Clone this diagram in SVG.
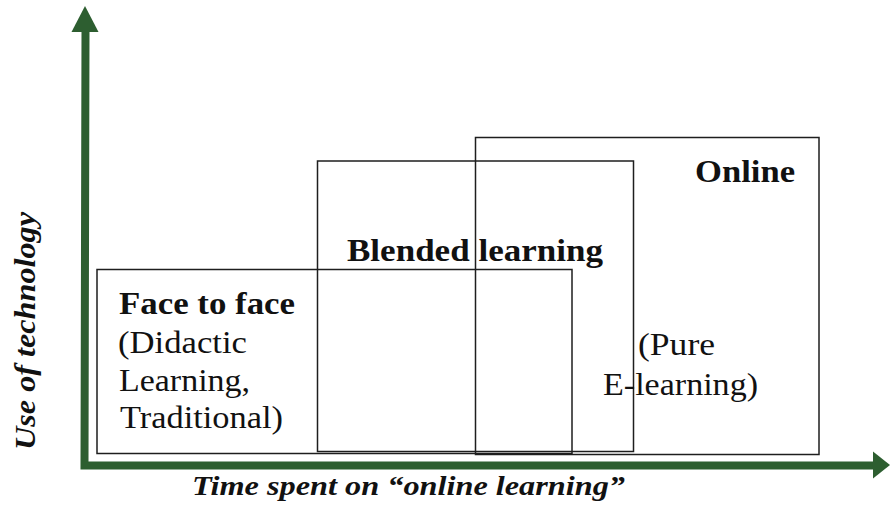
<svg xmlns="http://www.w3.org/2000/svg" width="890" height="508" viewBox="0 0 890 508">
  <style>
    .box { fill: none; stroke: #1e1e1e; stroke-width: 1.5; }
    .axis { fill: none; stroke: #2d5e30; stroke-width: 8; stroke-linejoin: miter; }
    .head { fill: #2d5e30; }
    .t { font-family: 'Liberation Serif', 'DejaVu Serif', serif; font-size: 31px; fill: #111; }
    .b { font-weight: bold; }
    .lbl { font-family: 'Liberation Serif', 'DejaVu Serif', serif; font-weight: bold; font-style: italic; fill: #111; }
  </style>
  <rect width="890" height="508" fill="#ffffff"/>

  <!-- axes -->
  <g id="axes">
    <path class="axis" d="M85.5 30 L84.5 465.5 L874 465.5"/>
    <polygon class="head" points="85,6 98.5,32 71.5,32"/>
    <polygon class="head" points="890,465 873,451.5 873,478.5"/>
  </g>

  <!-- regions -->
  <g id="face-to-face">
    <rect class="box" x="97" y="269.5" width="475" height="184"/>
    <text class="t b" x="119" y="314" textLength="176" lengthAdjust="spacingAndGlyphs">Face to face</text>
    <text class="t" x="118" y="353" textLength="129" lengthAdjust="spacingAndGlyphs">(Didactic</text>
    <text class="t" x="119" y="391" textLength="131" lengthAdjust="spacingAndGlyphs">Learning,</text>
    <text class="t" x="120" y="428" textLength="163" lengthAdjust="spacingAndGlyphs">Traditional)</text>
  </g>

  <g id="blended">
    <rect class="box" x="317.5" y="161" width="316" height="290.5"/>
    <text class="t b" x="347" y="261" textLength="256" lengthAdjust="spacingAndGlyphs">Blended learning</text>
  </g>

  <g id="online">
    <rect class="box" x="475.5" y="137.5" width="343.5" height="317"/>
    <text class="t b" x="695" y="182" textLength="100" lengthAdjust="spacingAndGlyphs">Online</text>
    <text class="t" x="638" y="355" textLength="77" lengthAdjust="spacingAndGlyphs">(Pure</text>
    <text class="t" x="603" y="395" textLength="155" lengthAdjust="spacingAndGlyphs">E-learning)</text>
  </g>

  <!-- axis titles -->
  <g id="x-label">
    <text class="lbl" x="192" y="495" font-size="27" textLength="433" lengthAdjust="spacingAndGlyphs">Time spent on “online learning”</text>
  </g>
  <g id="y-label">
    <text class="lbl" transform="translate(35,450) rotate(-90)" font-size="29" textLength="238" lengthAdjust="spacingAndGlyphs">Use of technology</text>
  </g>
</svg>
